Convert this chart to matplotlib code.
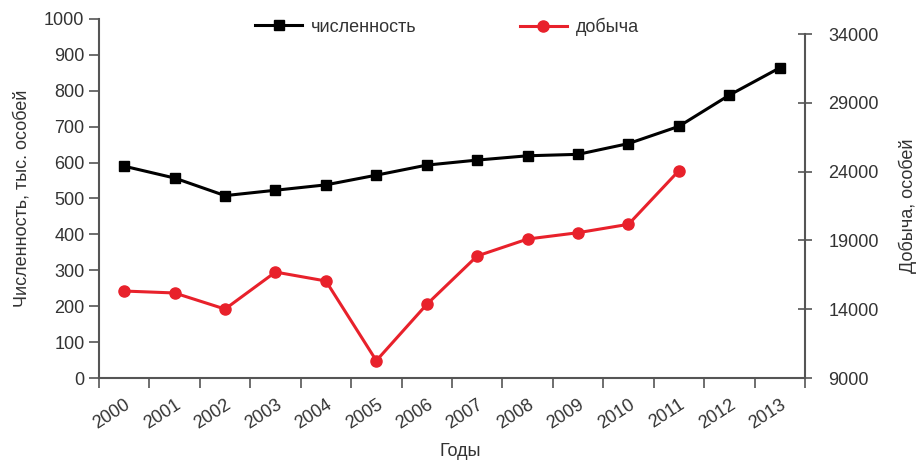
import matplotlib
matplotlib.use('Agg')
import matplotlib.pyplot as plt
import numpy as np

plt.rcParams['font.family'] = ['Liberation Sans', 'DejaVu Sans']

# data
years = ['2000', '2001', '2002', '2003', '2004', '2005', '2006',
         '2007', '2008', '2009', '2010', '2011', '2012', '2013']
population = [590, 557, 508, 523, 538, 565, 593, 607, 619, 623, 653, 701, 788, 864]
harvest = [15320, 15180, 14010, 16700, 16050, 10260, 14350,
           17870, 19100, 19560, 20170, 24070]

TXT = '#333333'
AX = '#555555'
RED = '#e8212b'
FS = 13

fig = plt.figure(figsize=(9.18, 4.62), dpi=100)
ax = fig.add_axes([0.1078, 0.1818, 0.7691, 0.7771])
ax2 = fig.add_axes([0.1078, 0.1818, 0.7691, 0.7446], sharex=ax)
ax2.patch.set_alpha(0)

x = np.arange(len(years))
x_h = np.arange(len(harvest))

l1, = ax.plot(x, population, color='black', lw=2.2, marker='s', ms=7.5,
              label='численность')
l2, = ax2.plot(x_h, harvest, color=RED, lw=2.2, marker='o', ms=8,
               label='добыча')

ax.set_xlim(-0.5, len(years) - 0.5)
ax.set_ylim(0, 1000)
ax.set_yticks(np.arange(0, 1001, 100))
ax2.set_ylim(9000, 34000)
ax2.set_yticks(np.arange(9000, 34001, 5000))

# category axis: ticks on boundaries, labels at centers
ax.set_xticks(np.arange(-0.5, len(years)), labels=[''] * (len(years) + 1))
ax.set_xticks(x, minor=True)
ax.set_xticklabels(years, minor=True, rotation=33, ha='right',
                   rotation_mode='anchor', fontsize=FS, color=TXT)
ax.tick_params(axis='x', which='minor', length=0, pad=13)
ax.tick_params(axis='x', which='major', length=7, color=AX, width=1.2,
               direction='out')

for s in ['top', 'right']:
    ax.spines[s].set_visible(False)
for s in ['left', 'bottom']:
    ax.spines[s].set_color(AX)
    ax.spines[s].set_linewidth(1.5)
ax.tick_params(axis='y', length=7, color=AX, width=1.2, labelsize=FS,
               labelcolor=TXT)

for s in ['top', 'left', 'bottom']:
    ax2.spines[s].set_visible(False)
ax2.spines['right'].set_color(AX)
ax2.spines['right'].set_linewidth(1.5)
ax2.yaxis.tick_right()
ax2.yaxis.set_label_position('right')
ax2.tick_params(axis='y', direction='inout', length=10, color=AX, width=1.2,
                labelsize=FS, labelcolor=TXT, pad=12)
ax2.tick_params(axis='x', which='both', bottom=False, labelbottom=False)

ax.set_ylabel('Численность, тыс. особей', fontsize=FS, color=TXT, labelpad=10)
ax2.set_ylabel('Добыча, особей', fontsize=FS, color=TXT, labelpad=14)
fig.text(460 / 918, 1 - 452 / 462, 'Годы', fontsize=FS, color=TXT,
         ha='center', va='center')

# two separate legend entries placed like the original
for h, xa in [(l1, 0.278), (l2, 0.566)]:
    fig.legend(handles=[h], loc='center left', bbox_to_anchor=(xa, 0.941),
               frameon=False, fontsize=FS, handlelength=2.6,
               handletextpad=0.5, borderpad=0, borderaxespad=0,
               labelcolor=TXT)

fig.savefig('out.png', dpi=100)
